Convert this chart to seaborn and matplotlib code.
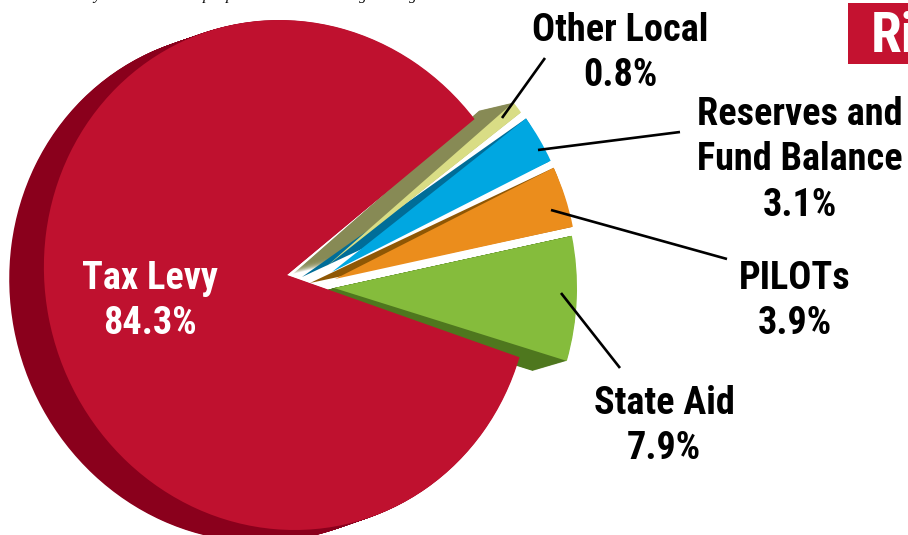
import math

import matplotlib
matplotlib.use('Agg')
import matplotlib.pyplot as plt
from matplotlib.patches import Wedge
from matplotlib.transforms import Affine2D
import numpy as np
import seaborn as sns

# Revenue sources, in drawing order round the pie
categories = ['Tax Levy', 'State Aid', 'PILOTs', 'Reserves and\nFund Balance', 'Other Local']
shares = [84.3, 7.9, 3.9, 3.1, 0.8]

face_colors = ['#BF112F', '#85BC3C', '#EB8D1C', '#00A7E1', '#D9DD85']
side_colors = ['#8A001C', '#4E771E', '#8F5704', '#006D98', '#878A55']

W, H = 908, 535
CX, CY = 287, 275      # pixel position of the pie centre
RX, RY = 243, 255      # the pie is a slightly tall ellipse


def px(x, y):
    return (x - CX) / RX, (CY - y) / RY


def off(dx, dy):
    return dx / RX, -dy / RY


sns.set_theme(style='white')
plt.rcParams['font.family'] = ['Roboto Condensed', 'Liberation Sans']

fig = plt.figure(figsize=(W / 100, H / 100), dpi=100)
ax = fig.add_axes([0, 0, 1, 1])

# how far each slice face is pulled out, and how its extruded side sits behind it
face_offsets = [(0, 0), (47, 13), (48, 4), (45, -3), (40, -9)]
side_offsets = [(-35, 12), (-34, 10), (-25, 4), (-30, 5), (-34, 8)]
side_tapered = [False, False, True, True, False]

faces, _ = ax.pie(shares, colors=face_colors, startangle=39.9, wedgeprops={'linewidth': 0})

shear = Affine2D().from_values(1, 0, -0.03 * RY / RX, 1, 0, 0)

# the red slice sits a little further round than the pulled-out ones
faces[0].set_theta1(faces[0].theta1 - 2.2)
faces[0].set_theta2(faces[0].theta2 - 2.2)
faces[0].set_transform(shear + ax.transData)
faces[0].set_zorder(4)

side_z = [1, 3, 2.2, 2.1, 2]
for i, face in enumerate(faces):
    fx, fy = off(*face_offsets[i])
    sx, sy = off(*side_offsets[i])
    if i > 0:
        face.set_center((fx, fy))
        face.set_zorder(5 + i * 0.01)
    if side_tapered[i]:
        # side runs from its own apex out to the corners of the face
        ax_, ay_ = fx + sx, fy + sy
        pts = []
        for t in (face.theta1, face.theta2):
            dx = fx + math.cos(math.radians(t)) - ax_
            dy = fy + math.sin(math.radians(t)) - ay_
            pts.append((math.degrees(math.atan2(dy, dx)), math.hypot(dx, dy)))
        side = Wedge((ax_, ay_), min(pts[0][1], pts[1][1]), pts[0][0], pts[1][0],
                     color=side_colors[i], lw=0, zorder=side_z[i])
        ax.add_patch(side)
    else:
        # sweep the slice backwards to get the extruded wall
        for t in np.linspace(0.02, 1, 40):
            side = Wedge((fx + t * sx, fy + t * sy), 1, face.theta1, face.theta2,
                         color=side_colors[i], lw=0, zorder=side_z[i])
            if i == 0:
                side.set_transform(shear + ax.transData)
            ax.add_patch(side)

# Leader lines
leaders = [((502, 118), (545, 58)),
           ((538, 150), (680, 132)),
           ((551, 210), (727, 259)),
           ((561, 293), (620, 368))]
for a, b in leaders:
    xa, ya = px(*a)
    xb, yb = px(*b)
    ax.plot([xa, xb], [ya, yb], color='black', lw=1.9, zorder=6, solid_capstyle='butt')

label_pos = [(150, 301), (664, 426), (795, 301), (800, 160), (620, 53)]
for name, val, pos in zip(categories, shares, label_pos):
    x, y = px(*pos)
    ax.text(x, y, f'{name}\n{val}%', ha='center', va='center', fontsize=27.5,
            fontweight='bold', linespacing=1.3, zorder=7,
            color='white' if name == 'Tax Levy' else 'black')

# Logo cut off by the page edge
x0, y1 = px(848, 3)
x1, y0 = px(908, 64)
ax.fill([x0, x1, x1, x0], [y0, y0, y1, y1], color='#C41230', lw=0, zorder=6)
x, y = px(871, 52)
ax.text(x, y, 'Ri', ha='left', va='baseline', color='white', fontsize=40, fontweight='bold',
        zorder=7)

# Descenders of a line of italic text cut off by the top edge
for ch, xp in zip('yppgg', [97, 207, 230, 363, 413]):
    x, y = px(xp, 0)
    ax.text(x, y, ch, ha='center', va='baseline', family=['Liberation Serif'],
            style='italic', fontsize=11, color='black', zorder=7)

ax.set_aspect('auto')
ax.set_xlim(-CX / RX, (W - CX) / RX)
ax.set_ylim((CY - H) / RY, CY / RY)
ax.axis('off')

fig.savefig('out.png', dpi=100)
